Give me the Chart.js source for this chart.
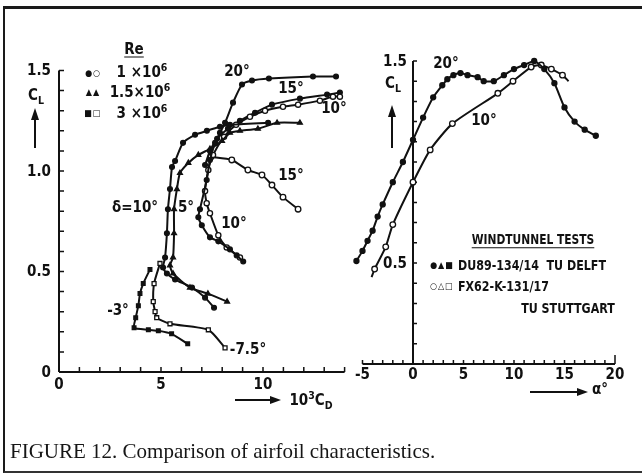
<!DOCTYPE html>
<html>
<head>
<meta charset="utf-8">
<script src="https://cdn.jsdelivr.net/npm/chart.js@4.4.1/dist/chart.umd.min.js"></script>
<style>
  html, body { margin: 0; padding: 0; background: #fff; }
  #fig {
    position: relative; width: 642px; height: 474px; overflow: hidden; background: #fff;
    font-family: 'DejaVu Sans Condensed', 'DejaVu Sans', sans-serif; font-weight: bold; color: #111;
  }
  #fig canvas { position: absolute; left: 0; top: 0; }
  .frame { position: absolute; left: 3px; top: 6px; width: 700px; height: 462px;
           border-top: 3px solid #1a1a1a; border-left: 2px solid #1a1a1a; border-bottom: 2px solid #333; }
  .c { position: absolute; white-space: nowrap; line-height: 1; font-size: 15px; transform: translate(-50%, -50%); }
  .n { transform: translate(-50%, -50%) scaleX(0.88); }
  .l { position: absolute; white-space: nowrap; line-height: 1; font-size: 14px;
       transform: translateY(-50%) scaleX(0.88); transform-origin: left center; }
  .u { text-decoration: underline; text-underline-offset: 3px; }
  .mk { font-size: 9px; letter-spacing: 1px; }
  sub, sup { font-size: 70%; line-height: 0; }
  .hl { position: absolute; height: 2px; background: #111; }
  .vl { position: absolute; width: 2px; background: #111; }
  .ah { position: absolute; width: 0; height: 0; border-top: 4px solid transparent; border-bottom: 4px solid transparent; border-left: 11px solid #111; }
  .au { position: absolute; width: 0; height: 0; border-left: 4px solid transparent; border-right: 4px solid transparent; border-bottom: 12px solid #111; }
  .cap { position: absolute; left: 10px; top: 439px; font-family: 'Liberation Serif', 'DejaVu Serif', serif;
         font-weight: normal; font-size: 21px; color: #161616; white-space: nowrap; }
</style>
</head>
<body>
<div id="fig">
  <div class="frame"></div>
  <canvas id="polar" width="642" height="474"></canvas>
  <canvas id="lift" width="642" height="474"></canvas>

  <!-- left panel texts -->
  <div class="c u" style="left:134px;top:49px;">Re</div>
  <div class="c mk" style="left:93px;top:73px;">●○</div>
  <div class="c" style="left:142px;top:72px;">1 ×10<sup>6</sup></div>
  <div class="c mk" style="left:93px;top:92px;">▲▲</div>
  <div class="c" style="left:140px;top:92px;">1.5×10<sup>6</sup></div>
  <div class="c mk" style="left:93px;top:113px;">■□</div>
  <div class="c" style="left:142px;top:113px;">3 ×10<sup>6</sup></div>
  <div class="c" style="left:36px;top:95px;">C<sub>L</sub></div>
  <div class="vl" style="left:34px;top:118px;height:30px;"></div>
  <div class="au" style="left:31px;top:108px;"></div>
  <div class="c" style="left:237px;top:71px;">20°</div>
  <div class="c" style="left:291px;top:88px;">15°</div>
  <div class="c" style="left:334px;top:108px;">10°</div>
  <div class="c" style="left:291px;top:175px;">15°</div>
  <div class="c" style="left:135px;top:207px;">δ=10°</div>
  <div class="c" style="left:186px;top:207px;">5°</div>
  <div class="c" style="left:234px;top:223px;">10°</div>
  <div class="c" style="left:118px;top:310px;">-3°</div>
  <div class="c" style="left:248px;top:349px;">-7.5°</div>
  <div class="hl" style="left:235px;top:399px;width:36px;"></div>
  <div class="ah" style="left:270px;top:396px;"></div>
  <div class="c" style="left:311px;top:400px;">10<sup>3</sup>C<sub>D</sub></div>

  <!-- right panel texts -->
  <div class="c" style="left:393px;top:83px;">C<sub>L</sub></div>
  <div class="vl" style="left:391px;top:115px;height:33px;"></div>
  <div class="au" style="left:388px;top:105px;"></div>
  <div class="c" style="left:446px;top:63px;">20°</div>
  <div class="c" style="left:484px;top:120px;">10°</div>
  <div class="c n u" style="left:533px;top:240px;font-size:13.5px;">WINDTUNNEL TESTS</div>
  <div class="c mk" style="left:442px;top:265px;">●▲■</div>
  <div class="l" style="left:458px;top:265px;">DU89-134/14&nbsp; TU DELFT</div>
  <div class="c mk" style="left:442px;top:286px;">○△□</div>
  <div class="l" style="left:458px;top:286px;">FX62-K-131/17</div>
  <div class="c n" style="left:568px;top:308px;font-size:14px;">TU STUTTGART</div>
  <div class="hl" style="left:530px;top:391px;width:48px;"></div>
  <div class="ah" style="left:577px;top:388px;"></div>
  <div class="c" style="left:600px;top:389px;">α°</div>

  <div class="cap">FIGURE 12. Comparison of airfoil characteristics.</div>
</div>

<script>
// ── Left panel: drag polars, [10^3 CD, CL] ─────────────────────────
const POLAR_DELTA10 = [[7.60,0.32],[7.16,0.37],[6.52,0.42],[5.69,0.46],[5.29,0.49],[5.10,0.52],[5.20,0.57],[5.29,0.69],[5.34,0.81],[5.44,0.91],[5.54,1.02],[5.69,1.05],[6.08,1.14],[6.67,1.18],[7.25,1.20],[7.89,1.22],[8.38,1.23],[10.25,1.24]];
const POLAR_DELTA5  = [[8.24,0.35],[7.30,0.39],[6.42,0.42],[5.59,0.49],[5.44,0.53],[5.59,0.57],[5.64,0.69],[5.64,0.81],[5.78,0.91],[5.93,0.99],[6.34,1.04],[6.83,1.08],[7.40,1.11],[7.99,1.15],[8.38,1.19],[8.87,1.20],[9.75,1.21],[10.69,1.24],[11.81,1.24]];
const POLAR_M3      = [[4.46,0.51],[4.13,0.44],[3.97,0.39],[3.89,0.33],[3.76,0.27],[3.68,0.22],[4.38,0.21],[4.87,0.205],[5.52,0.19],[6.31,0.14]];
const POLAR_M75     = [[4.95,0.54],[4.66,0.44],[4.62,0.35],[4.71,0.30],[4.79,0.27],[5.44,0.24],[7.32,0.21],[8.14,0.12]];
const POLAR_20      = [[9.03,0.55],[8.71,0.58],[8.38,0.61],[7.81,0.65],[7.40,0.67],[7.00,0.73],[6.83,0.77],[6.91,0.81],[7.24,0.955],[7.40,1.055],[7.65,1.14],[7.89,1.19],[8.14,1.24],[8.53,1.34],[8.97,1.43],[9.46,1.45],[10.29,1.46],[12.45,1.47],[13.58,1.47]];
const POLAR_10      = [[8.87,0.57],[8.22,0.62],[7.81,0.68],[7.40,0.79],[7.24,0.84],[7.16,0.90],[7.32,1.005],[7.55,1.08],[8.09,1.17],[8.68,1.23],[9.36,1.27],[10.10,1.30],[10.98,1.32],[11.72,1.33],[12.79,1.35],[13.43,1.37],[13.77,1.37]];
const POLAR_15      = [[7.16,1.03],[7.40,1.10],[7.75,1.16],[8.28,1.21],[8.87,1.25],[9.61,1.29],[10.44,1.33],[11.81,1.36],[13.14,1.38],[13.77,1.39]];
const POLAR_15_LOW  = [[7.45,1.07],[8.47,1.055],[9.26,1.005],[9.95,0.98],[10.44,0.93],[10.98,0.87],[11.72,0.81]];

const POLAR_X_LABELS = [0, 5, 10];
const POLAR_Y_LABELS = [0, 0.5, 1.0, 1.5];

// ── Right panel: lift curves, alpha (deg) vs CL ────────────────────
const ALPHA_DU89 = [-5.6,-5.0,-4.5,-4.0,-3.5,-3.0,-2.0,-1.0,0,1.0,2.0,2.9,3.4,4.0,4.7,5.4,6.4,7.0,8.0,9.0,10.0,11.0,12.0,13.0,14.0,15.0,16.0,17.0,18.1];
const CL_DU89    = [0.51,0.56,0.61,0.66,0.73,0.79,0.90,1.00,1.11,1.22,1.32,1.38,1.41,1.43,1.44,1.43,1.42,1.40,1.40,1.43,1.46,1.48,1.50,1.46,1.39,1.27,1.20,1.16,1.13];
const ALPHA_FX62 = [-4.1,-3.8,-2.7,-2.0,0,1.7,3.9,8.4,9.9,11.7,12.7,13.7,14.8,15.4];
const CL_FX62    = [0.43,0.47,0.58,0.69,0.90,1.06,1.19,1.34,1.40,1.47,1.48,1.46,1.43,1.40];

const LIFT_X_LABELS = [-5, 0, 5, 10, 15, 20];
const LIFT_Y_LABELS = [0.5, 1.5];

const INK = '#111';
const TICK_FONT = "bold 15px 'DejaVu Sans Condensed', 'DejaVu Sans', sans-serif";

// Axes drawn as in the printed figure: inward ticks, axis lines through given values
const frameAxes = {
  id: 'frameAxes',
  beforeDatasetsDraw(chart, args, o) {
    const { ctx } = chart;
    const xs = chart.scales.x, ys = chart.scales.y;
    const ax = xs.getPixelForValue(o.yAxisAt);
    const ay = ys.getPixelForValue(o.xAxisAt);
    ctx.save();
    ctx.strokeStyle = INK;
    ctx.lineWidth = 2;
    ctx.beginPath();
    ctx.moveTo(ax, ys.getPixelForValue(o.yFrom));
    ctx.lineTo(ax, ys.getPixelForValue(o.yTo));
    ctx.moveTo(xs.getPixelForValue(o.xFrom), ay);
    ctx.lineTo(xs.getPixelForValue(o.xTo), ay);
    ctx.stroke();

    ctx.lineWidth = 1.5;
    ctx.beginPath();
    const ny = Math.round((o.yTo - o.yFrom) / o.yStep);
    for (let i = 0; i <= ny; i++) {
      const p = ys.getPixelForValue(o.yFrom + i * o.yStep);
      ctx.moveTo(ax, p); ctx.lineTo(ax + o.tick, p);
    }
    const x0 = Math.ceil(o.xFrom / o.xStep - 1e-9);
    const x1 = Math.floor(o.xTo / o.xStep + 1e-9);
    for (let i = x0; i <= x1; i++) {
      const p = xs.getPixelForValue(i * o.xStep);
      ctx.moveTo(p, ay); ctx.lineTo(p, ay - (i === x1 && o.endTick ? o.endTick : o.tick));
    }
    ctx.stroke();

    ctx.fillStyle = INK;
    ctx.font = TICK_FONT;
    ctx.textAlign = 'right';
    ctx.textBaseline = 'middle';
    o.yLabels.forEach(v => ctx.fillText(v === 0 ? '0' : v.toFixed(1), ax - o.padY, ys.getPixelForValue(v) + 1));
    ctx.textAlign = 'center';
    ctx.textBaseline = 'top';
    o.xLabels.forEach(v => ctx.fillText(String(v), xs.getPixelForValue(v), ay + o.padX));
    ctx.restore();
  }
};

function series(points, style, filled, radius) {
  return {
    data: points,
    showLine: true,
    borderColor: INK,
    borderWidth: 2,
    tension: 0.2,
    pointStyle: style,
    pointRadius: radius,
    pointBorderWidth: 1.3,
    pointBorderColor: INK,
    pointBackgroundColor: filled ? INK : '#fff',
    clip: false,
  };
}

function baseOptions(padding, xRange, yRange, axes) {
  return {
    responsive: false,
    animation: false,
    events: [],
    layout: { padding },
    plugins: { legend: { display: false }, tooltip: { enabled: false }, frameAxes: axes },
    scales: {
      x: { type: 'linear', display: false, min: xRange[0], max: xRange[1] },
      y: { type: 'linear', display: false, min: yRange[0], max: yRange[1] },
    },
  };
}

const xy = arr => arr.map(([x, y]) => ({ x, y }));
const zip = (xs, ys) => xs.map((x, i) => ({ x, y: ys[i] }));

new Chart(document.getElementById('polar'), {
  type: 'scatter',
  data: {
    datasets: [
      series(xy(POLAR_DELTA10), 'circle', true, 2.4),
      series(xy(POLAR_DELTA5), 'triangle', true, 2.8),
      series(xy(POLAR_M3), 'rect', true, 2.6),
      series(xy(POLAR_M75), 'rect', false, 2.8),
      series(xy(POLAR_20), 'circle', true, 2.4),
      series(xy(POLAR_10), 'circle', false, 2.6),
      series(xy(POLAR_15), 'circle', true, 2.4),
      series(xy(POLAR_15_LOW), 'circle', false, 2.8),
    ]
  },
  plugins: [frameAxes],
  options: baseOptions({ left: 59, top: 70.5, right: 297.4, bottom: 102 }, [0, 14], [0, 1.5], {
    yAxisAt: 0, xAxisAt: 0, yFrom: 0, yTo: 1.5, yStep: 0.1, xFrom: 0, xTo: 14, xStep: 1,
    tick: 5, padY: 8, padX: 6, xLabels: POLAR_X_LABELS, yLabels: POLAR_Y_LABELS,
  }),
});

const fxSet = series(zip(ALPHA_FX62, CL_FX62), 'circle', false, 2.8);
fxSet.pointRadius = c => (c.dataIndex === 0 || c.dataIndex === ALPHA_FX62.length - 1) ? 0 : 2.8;

new Chart(document.getElementById('lift'), {
  type: 'scatter',
  data: {
    datasets: [
      series(zip(ALPHA_DU89, CL_DU89), 'circle', true, 2.5),
      fxSet,
    ]
  },
  plugins: [frameAxes],
  options: baseOptions({ left: 352.4, top: 61, right: 27, bottom: 110 }, [-6, 20], [0, 1.5], {
    yAxisAt: 0, xAxisAt: 0, yFrom: 0, yTo: 1.5, yStep: 0.1, xFrom: -5, xTo: 20, xStep: 1,
    tick: 4, endTick: 9, padY: 6, padX: 4, xLabels: LIFT_X_LABELS, yLabels: LIFT_Y_LABELS,
  }),
});
</script>
</body>
</html>
